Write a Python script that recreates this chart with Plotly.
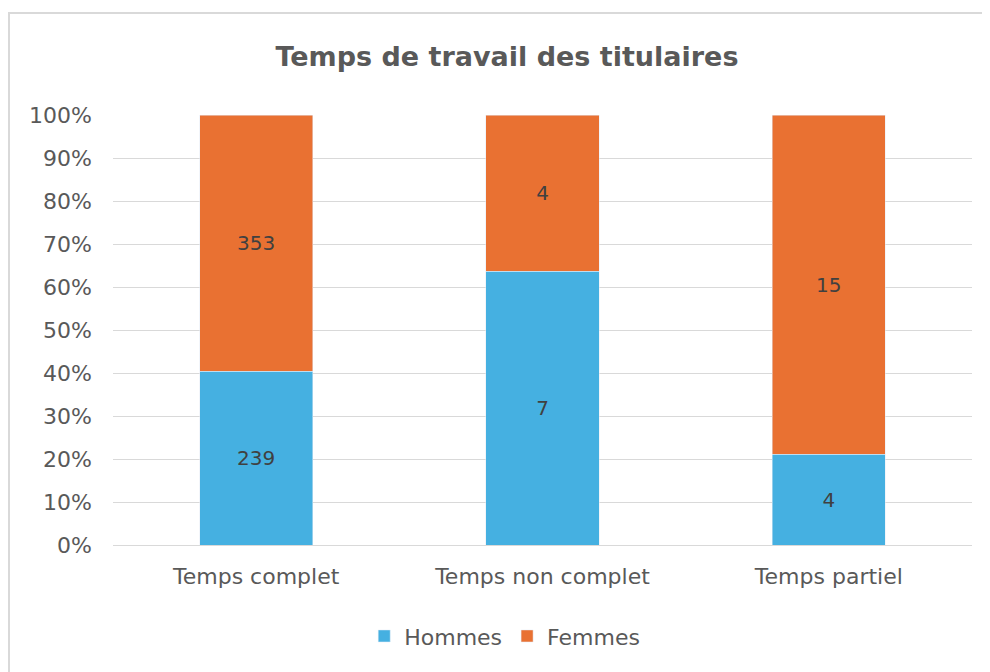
import plotly.graph_objects as go

categories = ["Temps complet", "Temps non complet", "Temps partiel"]
hommes = [239, 7, 4]
femmes = [353, 4, 15]
tick_vals = [0, 10, 20, 30, 40, 50, 60, 70, 80, 90, 100]
tick_text = [f"{v}%" for v in tick_vals]

BLUE = "#45B0E1"
ORANGE = "#E97132"
GREY = "#595959"
FONT = "DejaVu Sans, Liberation Sans, sans-serif"

# page body adds 8px, margins below are relative to the figure
L, T, PW, PH = 105, 107, 859, 430

fig = go.Figure()
fig.add_trace(go.Bar(x=categories, y=hommes, name="Hommes", marker_color=BLUE,
                     text=hommes, texttemplate="%{text}", textposition="inside",
                     insidetextanchor="middle",
                     textfont=dict(size=20, color="#404040")))
fig.add_trace(go.Bar(x=categories, y=femmes, name="Femmes", marker_color=ORANGE,
                     text=femmes, texttemplate="%{text}", textposition="inside",
                     insidetextanchor="middle",
                     textfont=dict(size=20, color="#404040")))

fig.update_layout(
    barmode="stack",
    barnorm="percent",
    bargap=0.605,
    width=990, height=672,
    margin=dict(l=L, r=990 - L - PW, t=T, b=672 - T - PH),
    paper_bgcolor="white",
    plot_bgcolor="white",
    font=dict(family=FONT, size=22, color=GREY),
    title=dict(text="<b>Temps de travail des titulaires</b>", x=0.504, xanchor="center",
               y=1 - 49 / 672, yanchor="middle",
               font=dict(size=27, color=GREY)),
    legend=dict(orientation="h", x=0.456, xanchor="center", y=-0.212, yanchor="middle",
                font=dict(size=22, color=GREY), traceorder="normal"),
    uniformtext=dict(mode="show", minsize=10),
    shapes=[dict(type="rect", xref="paper", yref="paper",
                 x0=(1 - L) / PW, x1=2, y0=-1, y1=(T + PH - 5) / PH,
                 line=dict(color="#d9d9d9", width=2), fillcolor="rgba(0,0,0,0)",
                 layer="below")],
)
fig.update_yaxes(range=[0, 100], tickvals=tick_vals, ticktext=tick_text,
                 showgrid=True, gridcolor="#d9d9d9", gridwidth=1,
                 zeroline=False, showline=False, ticks="",
                 ticklabelstandoff=20, tickfont=dict(size=22, color=GREY))
fig.update_xaxes(showline=True, linecolor="#d9d9d9", linewidth=1, ticks="",
                 tickfont=dict(size=22, color=GREY), ticklabelstandoff=12)

fig.write_html("out.html")
